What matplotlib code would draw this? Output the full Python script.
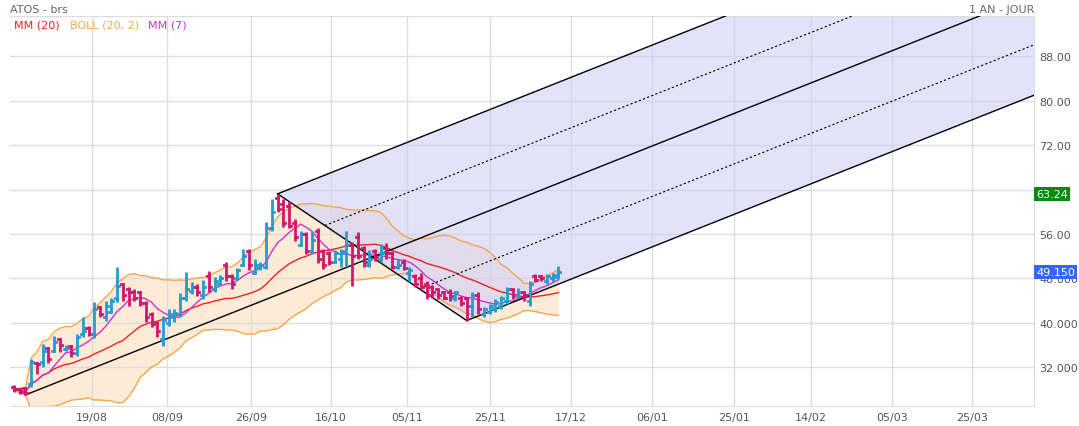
import numpy as np
import pandas as pd
import matplotlib
matplotlib.use("Agg")
import matplotlib.pyplot as plt

highs = [28.7,28.2,28.5,33.5,33.0,36.2,35.7,37.7,37.2,36.0,36.0,38.0,41.0,39.5,43.8,43.0,44.0,44.5,50.0,47.2,46.5,46.0,45.8,44.0,
         42.0,40.4,41.3,42.5,42.5,45.4,49.2,47.4,47.0,47.7,49.3,48.3,48.7,51.0,48.8,49.9,53.3,53.3,51.5,51.0,58.2,62.3,63.24,62.3,62.0,
         58.7,56.6,56.3,56.6,57.0,53.3,53.0,53.2,53.3,56.6,54.6,56.4,53.8,53.2,53.3,54.2,54.4,53.0,51.5,51.5,50.0,48.8,49.0,47.6,
         46.8,46.0,45.8,46.0,45.8,44.8,44.6,45.6,45.6,42.8,43.3,44.3,44.8,46.5,46.0,46.2,45.6,47.6,48.8,48.6,48.8,49.0,50.2]
lows = [27.6,27.1,27.0,28.5,30.8,32.0,32.8,34.8,34.8,35.0,33.8,34.0,37.5,37.6,37.2,41.0,40.4,41.7,43.8,44.0,43.0,44.0,43.0,40.2,
        39.3,37.5,35.9,39.5,40.2,41.0,44.0,45.2,44.9,44.3,45.6,45.6,46.9,47.5,46.0,47.7,50.3,49.6,48.8,49.6,49.7,56.5,60.0,57.3,57.0,
        54.8,53.8,52.4,52.4,50.7,49.7,50.5,50.7,50.0,50.3,46.6,51.5,50.0,50.0,51.2,51.0,51.5,49.7,49.7,49.5,47.6,46.5,46.0,44.3,
        44.5,44.3,44.3,44.0,44.0,43.0,40.4,41.0,41.6,41.0,41.6,42.0,42.5,43.4,44.3,44.5,44.0,43.0,47.3,47.5,47.0,47.3,47.9]
closes = [28.0,27.5,27.3,33.0,32.5,35.0,33.5,36.5,36.0,35.5,34.5,37.5,38.5,38.0,42.5,41.5,43.0,44.0,46.7,45.0,45.5,44.5,43.5,41.0,
          39.8,38.5,40.5,41.5,41.8,44.5,46.0,46.5,45.5,46.5,46.5,47.5,48.0,48.5,47.0,49.5,52.0,50.5,50.5,50.5,57.0,60.0,60.5,58.0,57.5,
          55.5,56.0,53.0,55.0,51.5,50.5,51.0,52.5,53.0,54.0,52.0,52.0,51.0,51.5,51.8,52.5,52.5,50.0,50.5,49.8,49.5,47.0,46.5,45.0,
          45.5,45.0,44.5,44.8,45.5,43.5,43.0,45.0,42.5,42.5,43.0,43.8,44.5,46.0,45.0,45.5,45.0,47.0,47.8,48.0,48.5,48.7,49.15]
opens = [28.5,28.0,28.2,29.0,32.8,33.0,35.5,35.0,37.0,35.2,35.8,34.5,38.0,39.0,38.0,42.8,41.0,42.0,44.5,47.0,46.0,45.5,45.5,43.5,
         41.5,40.0,37.0,40.0,41.0,41.5,44.5,45.8,46.5,45.0,48.5,46.0,47.0,50.5,48.5,48.0,50.5,53.0,49.0,50.0,50.0,57.0,62.5,61.5,61.0,
         58.0,54.0,56.0,53.0,56.5,53.0,52.5,51.0,51.5,52.5,54.0,55.5,53.5,50.5,53.0,51.5,53.5,52.5,50.0,51.0,49.0,48.5,48.0,47.0,
         46.5,46.0,45.5,45.5,44.5,44.5,44.5,43.0,45.0,41.5,42.0,42.5,43.0,44.0,46.0,44.8,45.5,44.0,48.5,48.5,47.5,48.0,48.2]
tick_pos = [13.6,26.7,41.4,55.3,68.6,83.1,97.2,111.3,125.7,139.1,153.2,167.2]
tick_lbl = ["19/08","08/09","26/09","16/10","05/11","25/11","17/12","06/01","25/01","14/02","05/03","25/03"]
y_ticks = [32,40,48,56,64,72,80,88]
y_lbls = ["32.000","40.000","48.000","56.00","64.00","72.00","80.00","88.00"]
pivots = [2, 46, 79]  # bar indices: low, high, low

BLUE = "#2a9bcc"; RED = "#d0186e"
fig = plt.figure(figsize=(10.79, 4.27), dpi=100)
ax = fig.add_axes([10/1079, 20/427, 1024/1079, 390/427])
n = len(closes)
x = np.arange(n)
s = pd.Series(closes)
mm20 = s.rolling(20, min_periods=1).mean()
sd = s.rolling(20, min_periods=1).std(ddof=0)
mm7 = s.rolling(7, min_periods=1).mean()
up = mm20 + 2*sd; lo = mm20 - 2*sd

Y0, Y1 = 25.0, 95.3
xmin, xmax = -0.7, 178
ax.set_xlim(xmin, xmax); ax.set_ylim(Y0, Y1)

# pitchfork
ax_, ay = pivots[0], lows[pivots[0]]
bx, by = pivots[1], highs[pivots[1]]
cx, cy = pivots[2], lows[pivots[2]]
mx, my = (bx+cx)/2, (by+cy)/2
k = (my-ay)/(mx-ax_)
xe = xmax
fill_x = [bx, xe, xe, cx]
fill_y = [by, by+k*(xe-bx), cy+k*(xe-cx), cy]
ax.fill(fill_x, fill_y, color="#cfcff9", alpha=0.6, lw=0, zorder=2)

ax.fill_between(x, lo, up, color="#fde3c6", alpha=0.7, lw=0, zorder=1)
ax.plot(x, up, color="#f5a84a", lw=1, zorder=3)
ax.plot(x, lo, color="#f5a84a", lw=1, zorder=3)
ax.plot(x, mm20, color="#ee2222", lw=1, zorder=4)
ax.plot(x, mm7, color="#cc33cc", lw=1, zorder=4)

ax.plot([ax_, xe], [ay, ay+k*(xe-ax_)], color="black", lw=1, zorder=5)
ax.plot([bx, xe], [by, by+k*(xe-bx)], color="black", lw=1, zorder=5)
ax.plot([cx, xe], [cy, cy+k*(xe-cx)], color="black", lw=1, zorder=5)
ax.plot([bx, cx], [by, cy], color="black", lw=1, zorder=5)
for f in (0.25, 0.75):
    px, py = bx+(cx-bx)*f, by+(cy-by)*f
    ax.plot([px, xe], [py, py+k*(xe-px)], color="black", lw=0.8, ls=(0, (2, 2)), zorder=5)

for i in range(n):
    c = BLUE if closes[i] >= opens[i] else RED
    ax.plot([i, i], [lows[i], highs[i]], color=c, lw=2, zorder=6, solid_capstyle="butt")
    ax.plot([i-0.35, i], [opens[i], opens[i]], color=c, lw=2, zorder=6)
    ax.plot([i, i+0.35], [closes[i], closes[i]], color=c, lw=2, zorder=6)

ax.set_xticks(tick_pos); ax.set_xticklabels(tick_lbl)
ax.set_yticks(y_ticks); ax.set_yticklabels(y_lbls)
ax.yaxis.tick_right()
ax.tick_params(length=0, labelsize=8, colors="#555555", pad=4)
ax.grid(True, color="#dddddd", lw=1, zorder=0)
for sp in ["top", "left"]:
    ax.spines[sp].set_visible(False)
for sp in ["right", "bottom"]:
    ax.spines[sp].set_color("#dddddd")
ax.axhline(Y1, color="#dddddd", lw=1)

fig.text(10/1079, 1-10/427, "ATOS - brs", fontsize=8, color="#666666", va="center")
fig.text(1034/1079, 1-10/427, "1 AN - JOUR", fontsize=8, color="#666666", va="center", ha="right")
fig.text(14/1079, 1-25/427, "MM (20)", fontsize=8, color="#ee2222", va="center")
fig.text(70/1079, 1-25/427, "BOLL (20, 2)", fontsize=8, color="#f5a84a", va="center")
fig.text(148/1079, 1-25/427, "MM (7)", fontsize=8, color="#cc33cc", va="center")
ax.text(1.002, (highs[bx]-Y0)/(Y1-Y0), "%.2f" % highs[bx], transform=ax.transAxes, fontsize=8, color="white",
        va="center", ha="left", bbox=dict(boxstyle="square,pad=0.2", fc="#0a8a0a", ec="none"), zorder=10)
ax.text(1.002, (closes[-1]-Y0)/(Y1-Y0), "%.3f" % closes[-1], transform=ax.transAxes, fontsize=8, color="white",
        va="center", ha="left", bbox=dict(boxstyle="square,pad=0.2", fc="#3366ff", ec="none"), zorder=10)
fig.savefig("out.png", dpi=100)
